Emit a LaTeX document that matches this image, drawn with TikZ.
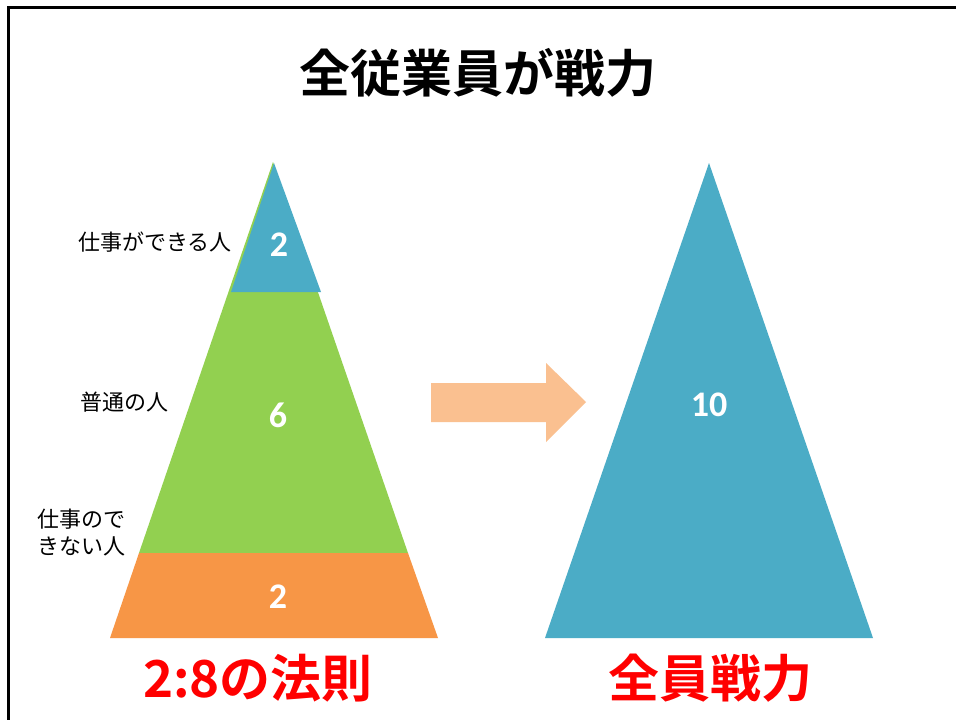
\documentclass[tikz,border=0pt]{standalone}
\usepackage{fontspec}
\setmainfont{Carlito}
\newfontfamily\cjk{Noto Sans CJK JP}
\newfontfamily\cjkb{Noto Sans CJK JP Bold}
\newfontfamily\numf{Carlito}
\definecolor{tblue}{HTML}{4BACC6}
\definecolor{tgreen}{HTML}{92D050}
\definecolor{torange}{HTML}{F79646}
\definecolor{tarrow}{HTML}{FAC090}
\definecolor{tred}{HTML}{FF0000}
\begin{document}
\begin{tikzpicture}[x=1pt,y=-1pt,
  lbl/.style={font=\cjk\fontsize{22}{27}\selectfont, text=black, inner sep=0pt},
  num/.style={font=\numf\bfseries\fontsize{36}{36}\selectfont, text=white, inner sep=0pt},
  big/.style={font=\cjkb\fontsize{51}{51}\selectfont, text=tred, inner sep=0pt}]
\useasboundingbox (0,0) rectangle (956,720);
\clip (0,0) rectangle (956,720);
\fill[white] (0,0) rectangle (956,720);
\draw[line width=3pt] (8.5,800) -- (8.5,7.5) -- (1000,7.5);
% title
\node[font=\cjkb\fontsize{51}{51}\selectfont, inner sep=0pt] (title) at (478,73) {全従業員が戦力};
% left pyramid
\fill[tgreen] (273,162) -- (408,553) -- (139,553) -- cycle;
\fill[torange] (139,553) -- (408,553) -- (438,638) -- (110,638) -- cycle;
\fill[tblue] (274,163) -- (321,292) -- (231,292) -- cycle;
\node[num] (n1) at (279,245) {2};
\node[num] (n2) at (278,415) {6};
\node[num] (n3) at (278,597) {2};
% labels
\node[lbl, anchor=west] (l1) at (78,242) {仕事ができる人};
\node[lbl, anchor=west] (l2) at (80,402) {普通の人};
\node[lbl, anchor=north west, align=left] (l3) at (37,509) {仕事ので\\きない人};
% arrow
\fill[tarrow] (431,383) -- (546,383) -- (546,363) -- (586,402) -- (546,442) -- (546,422) -- (431,422) -- cycle;
% right triangle
\fill[tblue] (709,163) -- (873,638) -- (545,638) -- cycle;
\node[num] (n4) at (709,405) {10};
% bottom captions
\node[big] (c1) at (258,678) {2:8の法則};
\node[big] (c2) at (710,678) {全員戦力};
\end{tikzpicture}
\end{document}
